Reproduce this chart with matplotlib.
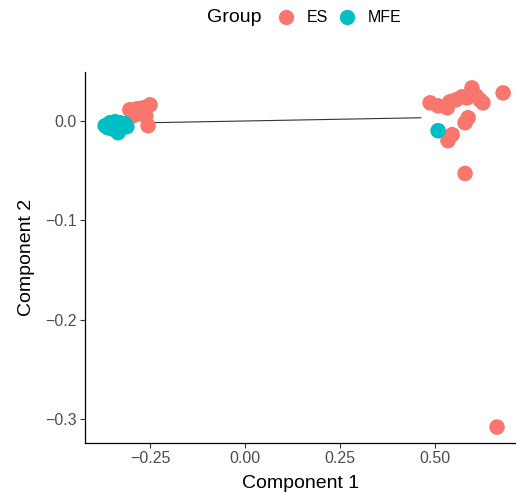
import matplotlib.pyplot as plt
from matplotlib.lines import Line2D

plt.rcParams['font.family'] = ['Liberation Sans', 'DejaVu Sans']

# data
es_x = [-0.303, -0.284, -0.268, -0.250, -0.261, -0.255, -0.295, -0.276,
        0.487, 0.508, 0.532, 0.539, 0.555, 0.571, 0.584, 0.597, 0.608,
        0.618, 0.626, 0.679, 0.587, 0.579, 0.545, 0.534, 0.579, 0.663]
es_y = [0.011, 0.012, 0.013, 0.016, 0.005, -0.005, 0.005, 0.007,
        0.018, 0.015, 0.013, 0.019, 0.021, 0.024, 0.023, 0.033, 0.025,
        0.021, 0.018, 0.028, 0.003, -0.002, -0.014, -0.020, -0.053, -0.308]
mfe_x = [-0.368, -0.355, -0.342, -0.329, -0.316, -0.311, -0.350, -0.334,
         -0.361, -0.324, 0.508]
mfe_y = [-0.005, -0.002, -0.001, -0.002, -0.003, -0.006, -0.008, -0.012,
         -0.007, -0.005, -0.010]
line_x = [-0.25, 0.463]
line_y = [-0.002, 0.003]

xticks = [-0.25, 0.0, 0.25, 0.50]
xtick_labels = ['\u22120.25', '0.00', '0.25', '0.50']
yticks = [0.0, -0.1, -0.2, -0.3]
ytick_labels = ['0.0', '\u22120.1', '\u22120.2', '\u22120.3']

es_col = '#F8766D'
mfe_col = '#00BFC4'

fig = plt.figure(figsize=(5.16, 4.95), dpi=100)
ax = fig.add_axes([85/516, 1 - 443/495, 431/516, 371/495])

ax.plot(line_x, line_y, color='#333333', lw=0.8, zorder=1)
ax.scatter(es_x, es_y, s=125, color=es_col, edgecolors='none', zorder=2)
ax.scatter(mfe_x, mfe_y, s=125, color=mfe_col, edgecolors='none', zorder=3)

ax.set_xlim(-0.421, 0.713)
ax.set_ylim(-0.324, 0.049)

ax.set_xticks(xticks)
ax.set_xticklabels(xtick_labels)
ax.set_yticks(yticks)
ax.set_yticklabels(ytick_labels)
ax.tick_params(labelsize=11.5, labelcolor='#4D4D4D', length=3.5, width=0.8,
               color='#333333', pad=2.5)

for side in ['top', 'right']:
    ax.spines[side].set_visible(False)
for side in ['left', 'bottom']:
    ax.spines[side].set_linewidth(0.9)
    ax.spines[side].set_color('black')

ax.set_xlabel('Component 1', fontsize=14, labelpad=6)
ax.set_ylabel('Component 2', fontsize=14, labelpad=7)

# legend at top
fig.text(207/516, 1 - 18/495, 'Group', fontsize=14, ha='left', va='center')
handles = [Line2D([], [], ls='none', marker='o', markersize=11,
                  markerfacecolor=c, markeredgecolor='none')
           for c in [es_col, mfe_col]]
fig.legend(handles, ['ES', 'MFE'], loc='center left',
           bbox_to_anchor=(278/516, 1 - 18/495), ncol=2, frameon=False,
           fontsize=11.5, handlelength=1.0, handletextpad=0.8,
           columnspacing=0.7, borderpad=0, borderaxespad=0)

fig.savefig('out.png', dpi=100)
